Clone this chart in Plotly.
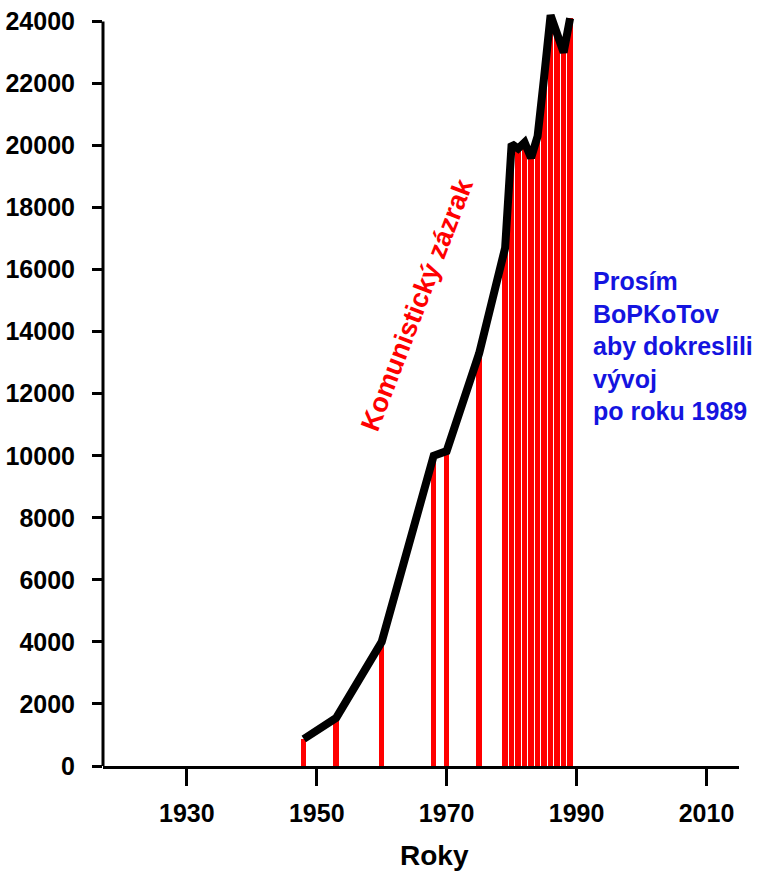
import plotly.graph_objects as go

years = [1948, 1953, 1960, 1968, 1970, 1975, 1979, 1980, 1981, 1982, 1983,
         1984, 1985, 1986, 1987, 1988, 1989]
values = [870, 1550, 4000, 10000, 10150, 13300, 16700, 20050, 19900, 20100,
          19600, 20300, 22200, 24200, 23600, 23000, 24100]

x_ticks = [1930, 1950, 1970, 1990, 2010]
y_ticks = list(range(0, 24001, 2000))

FONT = "Liberation Sans, Arial, sans-serif"

fig = go.Figure()
fig.add_trace(go.Bar(x=years, y=values, width=0.84,
                     marker=dict(color="#ff0000", line=dict(width=0)),
                     showlegend=False))
fig.add_trace(go.Scatter(x=years, y=values, mode="lines",
                         line=dict(color="black", width=8),
                         showlegend=False))

fig.add_shape(type="line", xref="paper", yref="y", x0=0, x1=0, y0=0, y1=24000,
              line=dict(color="black", width=3))

fig.add_annotation(x=1965.4, y=14870, xref="x", yref="y",
                   text="Komunistický zázrak", textangle=-69, showarrow=False,
                   font=dict(family=FONT, size=27, color="#ff0000", weight="bold"))
fig.add_annotation(x=1992.2, y=13550, xref="x", yref="y", xanchor="left", yanchor="middle",
                   align="left", showarrow=False,
                   text="Prosím<br>BoPKoTov<br>aby dokreslili<br>vývoj<br>po roku 1989",
                   font=dict(family=FONT, size=25, color="#1414e0", weight="bold"))
fig.add_annotation(x=1968.1, y=-0.118, xref="x", yref="paper", yanchor="middle",
                   showarrow=False, text="Roky",
                   font=dict(family=FONT, size=28, color="black", weight="bold"))

fig.update_layout(
    width=774, height=871,
    margin=dict(l=103, r=35, t=9, b=105, autoexpand=False),
    paper_bgcolor="white", plot_bgcolor="white",
    bargap=0,
    xaxis=dict(range=[1917.1, 2015], tickvals=x_ticks, showgrid=False, zeroline=False,
               automargin=False,
               showline=True, linecolor="black", linewidth=3,
               ticks="outside", ticklen=17, tickwidth=3, tickcolor="black",
               ticklabelstandoff=6,
               tickfont=dict(family=FONT, size=25, color="black", weight="bold")),
    yaxis=dict(range=[0, 24400], tickvals=y_ticks, ticktext=[str(v) for v in y_ticks],
               showgrid=False, zeroline=False, automargin=False,
               showline=False,
               ticks="outside", ticklen=10, tickwidth=3, tickcolor="black",
               ticklabelstandoff=12,
               tickfont=dict(family=FONT, size=25, color="black", weight="bold")),
)

fig.write_html("out.html", config={"displayModeBar": False},
               post_script="document.body.style.margin='0';")
